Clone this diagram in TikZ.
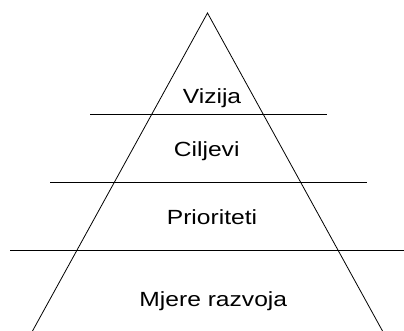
\documentclass[tikz,border=0pt]{standalone}
\usepackage{fontspec}
\setmainfont{Liberation Sans}
\begin{document}
\begin{tikzpicture}[x=1pt,y=1pt,
  lbl/.style={anchor=base,inner sep=0pt,font=\fontsize{20.5}{22}\selectfont},
  edge/.style={line width=0.8pt}]
\useasboundingbox (0,0) rectangle (404,331);
\coordinate (apex) at (207.5,318);
\coordinate (bl) at (32.5,0);
\coordinate (br) at (382.5,0);
\draw[edge] (bl) -- (apex) -- (br);
\coordinate (l1a) at (90,216.7); \coordinate (l1b) at (327,216.7);
\coordinate (l2a) at (50,149); \coordinate (l2b) at (366.7,149);
\coordinate (l3a) at (10,80.3); \coordinate (l3b) at (404,80.3);
\draw[edge] (l1a) -- (l1b);
\draw[edge] (l2a) -- (l2b);
\draw[edge] (l3a) -- (l3b);
\node[lbl] (viz) at (212,227) {\scalebox{1.2}[1]{Vizija}};
\node[lbl] (cil) at (206.7,174.3) {\scalebox{1.2}[1]{Ciljevi}};
\node[lbl] (pri) at (212,106) {\scalebox{1.2}[1]{Prioriteti}};
\node[lbl] (mje) at (213.3,24.3) {\scalebox{1.2}[1]{Mjere razvoja}};
\end{tikzpicture}
\end{document}
